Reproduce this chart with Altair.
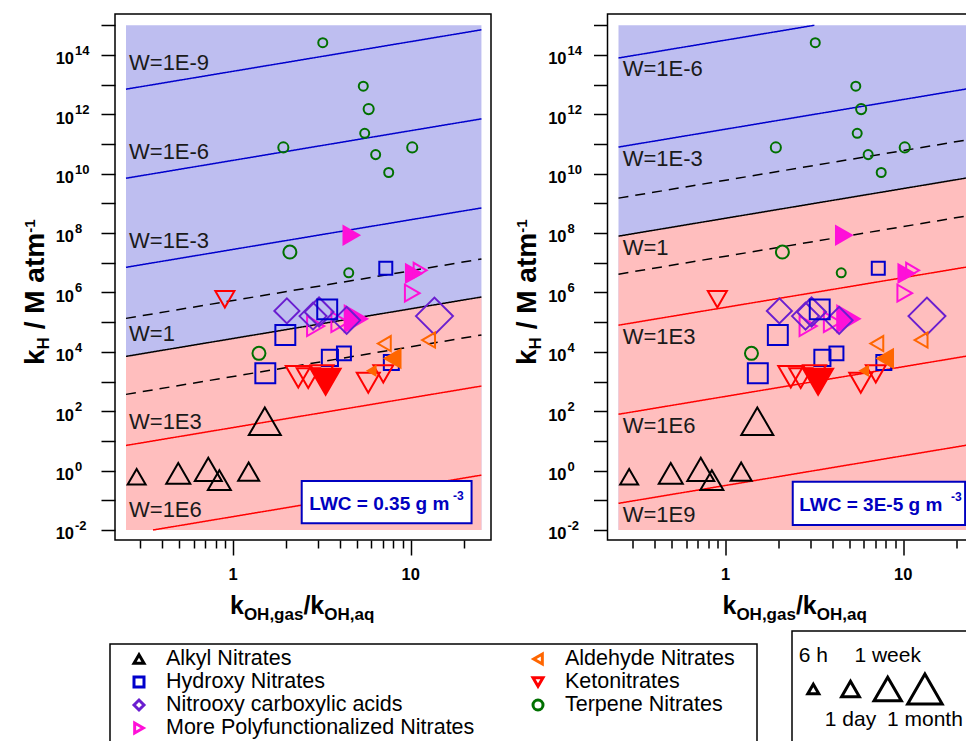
import math
import altair as alt
import pandas as pd

FONT = "Liberation Sans"

# ---------------- data ----------------
categories = ["Alkyl Nitrates", "Hydroxy Nitrates", "Nitrooxy carboxylic acids",
              "More Polyfunctionalized Nitrates", "Aldehyde Nitrates", "Ketonitrates",
              "Terpene Nitrates"]
cat_shapes = ["triangle-up", "square", "diamond", "triangle-right",
              "triangle-left", "triangle-down", "circle"]
cat_colors = ["#000000", "#0000CC", "#6A1ED0", "#FF10D8", "#FF6600", "#FF0000", "#007000"]
legend_col = [0, 0, 0, 0, 1, 1, 1]
legend_row = [0, 1, 2, 3, 0, 1, 2]

# x = kOH,gas/kOH,aq ; y = kH (M/atm) ; life = marker lifetime class (h) ; filled flag
alkyl_ratio = [0.287, 0.492, 0.726, 0.838, 1.225, 1.51]
alkyl_kh = [0.62, 0.81, 1.1, 0.48, 0.92, 46]
alkyl_life = [25, 85, 156, 69, 46, 433]
alkyl_filled = [0, 0, 0, 0, 0, 0]

poly_ratio = [4.63, 10.4, 11.3, 10.2, 4.92, 2.92, 4.0]
poly_kh = [8.5e7, 4.4e6, 5.6e6, 9.5e5, 1.3e5, 7.4e4, 1.0e5]
poly_life = [25, 25, 13.5, 20, 127, 37, 37]
poly_filled = [1, 1, 0, 0, 1, 0, 0]

nitrooxy_ratio = [2.01, 3.05, 2.82, 4.36, 13.6]
nitrooxy_kh = [2.4e5, 2.2e5, 1.6e5, 1.15e5, 1.6e5]
nitrooxy_life = [104, 235, 156, 156, 1200]
nitrooxy_filled = [0, 0, 0, 0, 0]

hydroxy_ratio = [7.24, 3.39, 1.97, 1.52, 3.51, 4.21, 7.78]
hydroxy_kh = [6.5e6, 2.7e5, 3.7e4, 1.9e3, 6.3e3, 8.9e3, 4.4e3]
hydroxy_life = [9, 37, 37, 37, 17, 11, 13.5]
hydroxy_filled = [0, 0, 0, 0, 0, 0, 0]

keto_ratio = [0.90, 2.33, 2.65, 3.32, 3.17, 5.77, 7.01]
keto_kh = [5.9e5, 1.45e3, 1.3e3, 9.8e2, 1.65e3, 9.1e2, 1.8e3]
keto_life = [31, 104, 69, 290, 69, 69, 37]
keto_filled = [0, 0, 0, 1, 0, 0, 0]

aldehyde_ratio = [7.10, 12.6, 7.92, 6.03]
aldehyde_kh = [1.9e4, 2.5e4, 6.0e3, 2.3e3]
aldehyde_life = [13.5, 13.5, 25, 4]
aldehyde_filled = [0, 0, 1, 1]

terpene_ratio = [3.20, 5.41, 5.80, 5.51, 1.92, 6.35, 10.2, 7.52, 2.09, 4.48, 1.40]
terpene_kh = [2.6e14, 8.9e12, 1.5e12, 2.3e11, 7.7e10, 4.4e10, 7.7e10, 1.1e10, 2.3e7, 4.6e6, 8.9e3]
terpene_life = [4, 4, 5, 4, 5, 4, 5, 4, 9, 4, 9]
terpene_filled = [0, 0, 0, 0, 0, 0, 0, 0, 0, 0, 0]

# lifetime legend
size_labels = ["6 h", "1 day", "1 week", "1 month"]
size_hours = [6, 24, 168, 720]

# W lines : log10(kH) of the W=1 line at ratio = 1, and W exponents drawn
w1_logkh_left = 4.45
w1_logkh_right = 8.5
w_exp_left = [-9, -6, -3, 0, 3, 6]
w_exp_right = [-6, -3, 0, 3, 6, 9]
dash_offset = 1.28
wlab_logy_left = [13.49, 10.50, 7.49, 4.35, 1.40, -1.57]
wlab_logy_right = [13.29, 10.27, 7.26, 4.26, 1.26, -1.74]

lwc_left = "LWC = 0.35 g m"
lwc_right = "LWC = 3E-5 g m"

# ---------------- geometry / scales ----------------
W_PLOT, H_PLOT = 376, 526
XDOM = [0.2168, 28.3]
YDOM = [10 ** -2.337, 10 ** 15.38]
SHADE_X = [0.25, 25.0]
SHADE_Y = [1e-2, 1e15]
BLUE_BG = "#BEBEF0"
PINK_BG = "#FFBEBE"
LWC_BLUE = "#0000C0"

xs = alt.Scale(type="log", domain=XDOM, nice=False)
ys = alt.Scale(type="log", domain=YDOM, nice=False)

x_tick_values = [0.3, 0.4, 0.5, 0.6, 0.7, 0.8, 0.9, 1, 2, 3, 4, 5, 6, 7, 8, 9, 10, 20]
x_axis = alt.Axis(values=x_tick_values, labels=False, domain=False, grid=False, title=None,
                  tickColor="black", tickWidth=1.5,
                  tickSize={"condition": {"test": "datum.value == 1 || datum.value == 10", "value": 15},
                            "value": 8})
y_axis = alt.Axis(values=[10.0 ** k for k in range(-2, 16)], labels=False, domain=False, grid=False,
                  title=None, tickColor="black", tickWidth=1.5, tickSize=14)


def X(f):
    return alt.X(f, type="quantitative", scale=xs, axis=x_axis)


def Y(f):
    return alt.Y(f, type="quantitative", scale=ys, axis=y_axis)


shape_scale = alt.Scale(domain=categories, range=cat_shapes)
color_scale = alt.Scale(domain=categories, range=cat_colors)

SIZE_EXPR = "pow(11 + 11.3*(log(datum.h)/LN10 - 0.778), 2)"

# points table
series = [
    ("Alkyl Nitrates", alkyl_ratio, alkyl_kh, alkyl_life, alkyl_filled),
    ("More Polyfunctionalized Nitrates", poly_ratio, poly_kh, poly_life, poly_filled),
    ("Nitrooxy carboxylic acids", nitrooxy_ratio, nitrooxy_kh, nitrooxy_life, nitrooxy_filled),
    ("Hydroxy Nitrates", hydroxy_ratio, hydroxy_kh, hydroxy_life, hydroxy_filled),
    ("Ketonitrates", keto_ratio, keto_kh, keto_life, keto_filled),
    ("Aldehyde Nitrates", aldehyde_ratio, aldehyde_kh, aldehyde_life, aldehyde_filled),
    ("Terpene Nitrates", terpene_ratio, terpene_kh, terpene_life, terpene_filled),
]
rows = []
for cat, xr, yk, lf, fl in series:
    for a, b, c, d in zip(xr, yk, lf, fl):
        rows.append({"cat": cat, "x": a, "y": b, "h": c, "filled": d, "ord": len(rows)})
df_pts = pd.DataFrame(rows)

LX0, LX1 = math.log10(SHADE_X[0]), math.log10(SHADE_X[1])
LY0, LY1 = math.log10(SHADE_Y[0]), math.log10(SHADE_Y[1])


def segment(logc):
    a = max(LX0, LY0 - logc)
    b = min(LX1, LY1 - logc)
    return 10 ** a, 10 ** (logc + a), 10 ** b, 10 ** (logc + b)


def wname(e):
    return "W=1" if e == 0 else "W=1E%d" % e


def text_piece(t, x, y, dx, dy, size, angle=0, weight="bold", color="black", align="left"):
    kw = dict(align=align, baseline="alphabetic", font=FONT, fontSize=size, fontWeight=weight,
              color=color, dx=dx, dy=dy)
    if angle:
        kw["angle"] = angle
    return alt.Chart(pd.DataFrame({"t": [t]})).mark_text(**kw).encode(
        text="t:N", x=alt.value(x), y=alt.value(y))


def make_panel(base, wexps, wlab_x, wlab_logy, lwc_text, lwc_box, lwc_pos, lwc_sup_pos):
    layers = []
    bg = pd.DataFrame({"x0": [SHADE_X[0]], "x1": [SHADE_X[1]], "y0": [SHADE_Y[0]], "y1": [SHADE_Y[1]]})
    layers.append(alt.Chart(bg).mark_rect(color=BLUE_BG).encode(
        x=X("x0"), x2=alt.X2("x1"), y=Y("y0"), y2=alt.Y2("y1")))
    pink = pd.DataFrame({"x": SHADE_X,
                         "y": [10 ** (base + LX0), 10 ** (base + LX1)],
                         "y2": [SHADE_Y[0], SHADE_Y[0]]})
    layers.append(alt.Chart(pink).mark_area(color=PINK_BG).encode(
        x=X("x"), y=Y("y"), y2=alt.Y2("y2")))
    lrows = []
    for e in wexps:
        xa, ya, xb, yb = segment(base - e)
        col = "#0000CC" if e < 0 else ("#000000" if e == 0 else "#FF0000")
        lrows.append({"xa": xa, "ya": ya, "xb": xb, "yb": yb, "col": col, "dash": "solid"})
    for off in (dash_offset, -dash_offset):
        xa, ya, xb, yb = segment(base + off)
        lrows.append({"xa": xa, "ya": ya, "xb": xb, "yb": yb, "col": "#000000", "dash": "dash"})
    layers.append(alt.Chart(pd.DataFrame(lrows)).mark_rule(strokeWidth=1.5).encode(
        x=X("xa"), x2=alt.X2("xb"), y=Y("ya"), y2=alt.Y2("yb"),
        color=alt.Color("col:N", scale=None),
        strokeDash=alt.StrokeDash("dash:N", scale=alt.Scale(domain=["solid", "dash"],
                                                            range=[[1, 0], [10, 7]]), legend=None)))
    wl = pd.DataFrame({"x": [wlab_x] * len(wexps), "y": [10 ** v for v in wlab_logy],
                       "t": [wname(e) for e in wexps]})
    layers.append(alt.Chart(wl).mark_text(align="left", baseline="alphabetic", font=FONT,
                                          fontSize=22, color="#1a1a1a").encode(
        x=X("x"), y=Y("y"), text="t:N"))
    layers.append(alt.Chart(df_pts).transform_calculate(sz=SIZE_EXPR).mark_point(
        filled=False, strokeWidth=2, opacity=1).encode(
        x=X("x"), y=Y("y"),
        shape=alt.Shape("cat:N", scale=shape_scale, legend=None),
        stroke=alt.Stroke("cat:N", scale=color_scale, legend=None),
        fill=alt.condition("datum.filled == 1",
                           alt.Fill("cat:N", scale=color_scale, legend=None),
                           alt.value("transparent")),
        size=alt.Size("sz:Q", scale=None),
        order=alt.Order("ord:Q")))
    box = pd.DataFrame({"x0": [lwc_box[0]], "x1": [lwc_box[1]], "y0": [lwc_box[2]], "y1": [lwc_box[3]]})
    layers.append(alt.Chart(box).mark_rect(fill="white", stroke=LWC_BLUE, strokeWidth=2).encode(
        x=X("x0"), x2=alt.X2("x1"), y=Y("y0"), y2=alt.Y2("y1")))
    lt = pd.DataFrame({"x": [lwc_pos[0], lwc_sup_pos[0]], "y": [lwc_pos[1], lwc_sup_pos[1]],
                       "t": [lwc_text, "-3"]})
    layers.append(alt.Chart(lt.iloc[[0]]).mark_text(align="left", baseline="alphabetic", font=FONT,
                                                    fontSize=19, fontWeight="bold", color=LWC_BLUE).encode(
        x=X("x"), y=Y("y"), text="t:N"))
    layers.append(alt.Chart(lt.iloc[[1]]).mark_text(align="left", baseline="alphabetic", font=FONT,
                                                    fontSize=12, fontWeight="bold", color=LWC_BLUE).encode(
        x=X("x"), y=Y("y"), text="t:N"))
    # y tick labels 10^n
    exps = list(range(-2, 15, 2))
    yl = pd.DataFrame({"v": [10.0 ** e for e in exps], "e": [str(e) for e in exps], "b": ["10"] * len(exps)})
    layers.append(alt.Chart(yl).mark_text(align="right", baseline="alphabetic", dy=9.3, font=FONT,
                                          fontSize=16.5, fontWeight="bold", color="black").encode(
        y=Y("v"), x=alt.value(-41), text="b:N"))
    layers.append(alt.Chart(yl).mark_text(align="left", baseline="alphabetic", dy=0, font=FONT,
                                          fontSize=13, fontWeight="bold", color="black").encode(
        y=Y("v"), x=alt.value(-40), text="e:N"))
    # x tick labels
    xl = pd.DataFrame({"v": [1, 10], "t": ["1", "10"]})
    layers.append(alt.Chart(xl).mark_text(align="center", baseline="top", font=FONT,
                                          fontSize=16.5, fontWeight="bold", color="black").encode(
        x=X("v"), y=alt.value(H_PLOT + 27), text="t:N"))
    # x title  k_OH,gas / k_OH,aq
    xt_y = H_PLOT + 74
    layers.append(text_piece("k", 115, xt_y, 0, 0, 25))
    layers.append(text_piece("OH,gas", 115, xt_y, 13.9, 6, 17))
    layers.append(text_piece("/k", 115, xt_y, 73.4, 0, 25))
    layers.append(text_piece("OH,aq", 115, xt_y, 94.3, 6, 17))
    # y title  k_H / M atm^-1 (rotated)
    layers.append(text_piece("k", -71.3, 351, 0, 0, 28, angle=270))
    layers.append(text_piece("H", -71.3, 351, 15.6, 5, 17, angle=270))
    layers.append(text_piece("/ M atm", -71.3, 351, 35.7, 0, 28, angle=270))
    layers.append(text_piece("-1", -71.3, 351, 132.2, -9, 15, angle=270))
    return alt.layer(*layers).properties(
        width=W_PLOT, height=H_PLOT,
        view=alt.ViewBackground(stroke="black", strokeWidth=1.5, strokeOpacity=1))


left = make_panel(w1_logkh_left, w_exp_left, 0.26, wlab_logy_left, lwc_left,
                  (2.436, 22.0, 0.0168, 0.447), (2.69, 0.0472), (17.3, 0.106))
right = make_panel(w1_logkh_right, w_exp_right, 0.264, wlab_logy_right, lwc_right,
                   (2.39, 22.3, 0.0147, 0.424), (2.60, 0.0437), (18.6, 0.0948))

# ---------------- category legend ----------------
LEG_H = 120
ROW_STEP = 23.0
cx0 = -24 / 399
cy0 = -28 / ROW_STEP
leg_x = alt.Scale(domain=[cx0, cx0 + W_PLOT / 399], nice=False, zero=False)
leg_y = alt.Scale(domain=[cy0, cy0 + LEG_H / ROW_STEP], nice=False, zero=False, reverse=True)
df_leg = pd.DataFrame({"cat": categories, "col": legend_col, "row": legend_row})
leg_box = alt.Chart(pd.DataFrame({"a": [0]})).mark_rect(fill="white", stroke="black", strokeWidth=1.5).encode(
    x=alt.value(-5), x2=alt.value(642), y=alt.value(13), y2=alt.value(135))
leg_pts = alt.Chart(df_leg).mark_point(filled=False, size=100, strokeWidth=3, opacity=1).encode(
    x=alt.X("col:Q", scale=leg_x, axis=None), y=alt.Y("row:Q", scale=leg_y, axis=None),
    shape=alt.Shape("cat:N", scale=shape_scale, legend=None),
    color=alt.Color("cat:N", scale=color_scale, legend=None))
leg_txt = alt.Chart(df_leg).mark_text(align="left", baseline="middle", dx=27, font=FONT,
                                      fontSize=21.5, color="black").encode(
    x=alt.X("col:Q", scale=leg_x, axis=None), y=alt.Y("row:Q", scale=leg_y, axis=None), text="cat:N")
leg_cat = alt.layer(leg_box, leg_pts, leg_txt).properties(
    width=W_PLOT, height=LEG_H, view=alt.ViewBackground(strokeOpacity=0))

# ---------------- lifetime legend ----------------
sx0 = -205.8 / 37.2
size_x = alt.Scale(domain=[sx0, sx0 + W_PLOT / 37.2], nice=False, zero=False)
df_size = pd.DataFrame({"t": size_labels, "h": size_hours, "i": [0, 1, 2, 3],
                        "top": [1, 0, 1, 0]})
size_box = alt.Chart(pd.DataFrame({"a": [0]})).mark_rect(fill="white", stroke="black", strokeWidth=1.5).encode(
    x=alt.value(184.5), x2=alt.value(420), y=alt.value(0), y2=alt.value(135))
size_tri = alt.Chart(df_size).transform_calculate(sz=SIZE_EXPR).mark_point(
    filled=False, shape="triangle-up", strokeWidth=3, color="black", opacity=1).encode(
    x=alt.X("i:Q", scale=size_x, axis=None), y=alt.value(58), size=alt.Size("sz:Q", scale=None))
size_top = alt.Chart(df_size).transform_filter("datum.top == 1").mark_text(
    align="center", baseline="alphabetic", font=FONT, fontSize=21, color="black").encode(
    x=alt.X("i:Q", scale=size_x, axis=None), y=alt.value(31), text="t:N")
size_bot = alt.Chart(df_size).transform_filter("datum.top == 0").mark_text(
    align="center", baseline="alphabetic", font=FONT, fontSize=21, color="black").encode(
    x=alt.X("i:Q", scale=size_x, axis=None), y=alt.value(95), text="t:N")
leg_size = alt.layer(size_box, size_tri, size_top, size_bot).properties(
    width=W_PLOT, height=LEG_H, view=alt.ViewBackground(strokeOpacity=0))

# fixed page-sized canvas (958 x 733): origin of the left plot at (107, 6); content beyond is cut
chart = alt.concat(left, right, leg_cat, leg_size, columns=2,
                   spacing={"row": 91, "column": 116.5}, bounds="flush").properties(
    autosize=alt.AutoSizeParams(type="none"),
    padding={"left": 107, "top": 6, "right": 851, "bottom": 727})

chart.save("out.html", embed_options={"renderer": "svg", "actions": False})
